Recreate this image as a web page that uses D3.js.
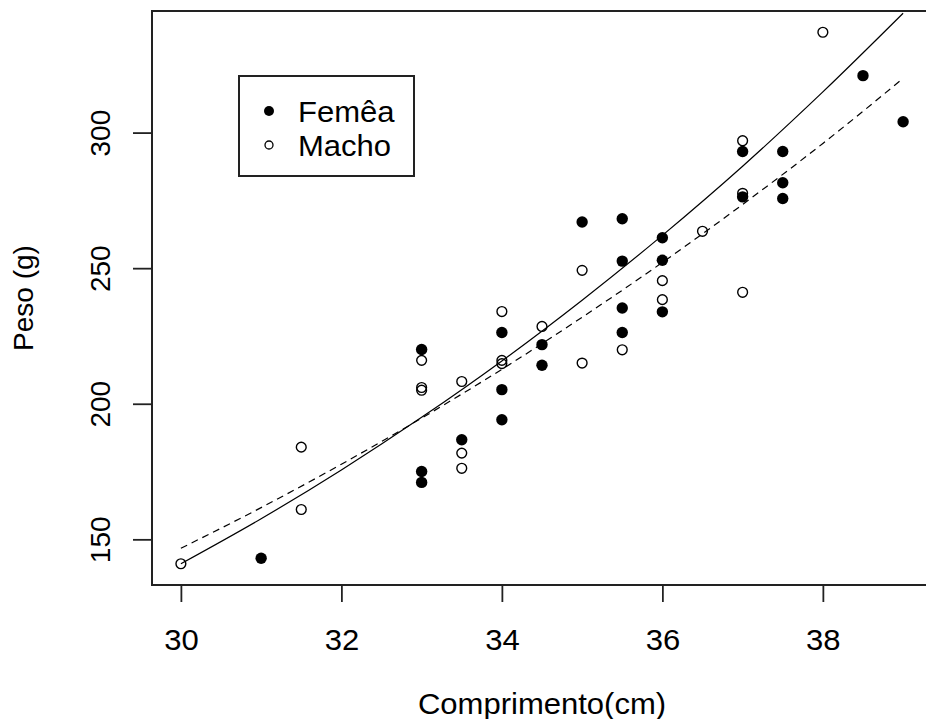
<!DOCTYPE html>
<html>
<head>
<meta charset="utf-8">
<script src="https://cdn.jsdelivr.net/npm/d3@7"></script>
<style>
  body { margin: 0; background: #fff; }
  text { font-family: "Liberation Sans", Arial, sans-serif; fill: #000; }
</style>
</head>
<body>
<svg id="chart" width="926" height="719"></svg>
<script>
// Fêmea (filled points)
const femeaComp = [31, 33, 33, 33, 33.5, 34, 34, 34, 34.5, 34.5, 35, 35.5, 35.5, 35.5, 35.5,
  36, 36, 36, 37, 37, 37.5, 37.5, 37.5, 38.5, 39];
const femeaPeso = [143, 220, 175, 171, 186.7, 226.3, 205.2, 194.1, 221.8, 214.2, 267, 268.2, 252.6, 235.3, 226.3,
  261.2, 252.9, 233.9, 293, 276.3, 293, 281.5, 275.7, 321, 304];

// Macho (open points)
const machoComp = [30, 31.5, 31.5, 33, 33, 33, 33.5, 33.5, 33.5, 34, 34, 34, 34.5, 35, 35,
  35.5, 36, 36, 36.5, 37, 37, 37, 38];
const machoPeso = [141, 184, 161, 216, 206, 205, 208.2, 181.8, 176.2, 234, 216, 214.8, 228.5, 249.2, 215,
  219.9, 245.4, 238.4, 263.6, 297, 277.6, 241.1, 337];

// fitted curves
const curveComp = [30, 31, 32, 33, 34, 35, 36, 37, 38, 39];
const curveSolid = [141, 157.6, 175.6, 195, 215.8, 238.2, 262.1, 287.6, 315, 344];
const curveDashed = [146.7, 161.7, 177.7, 194.7, 212.7, 231.9, 252.1, 273.5, 296, 320];

const xTicks = [30, 32, 34, 36, 38];
const yTicks = [150, 200, 250, 300];
const legendLabels = ["Femêa", "Macho"];

const plotLeft = 152, plotRight = 932, plotTop = 11, plotBottom = 585;
const fontSize = 29;
const stretch = 1.07; // the picture is a little wider than tall

const svg = d3.select("#chart");

// R style 4% padding on the data range
const allX = femeaComp.concat(machoComp);
const allY = femeaPeso.concat(machoPeso);
const [x0, x1] = d3.extent(allX);
const [y0, y1] = d3.extent(allY);
const x = d3.scaleLinear()
  .domain([x0 - (x1 - x0) * 0.04, x1 + (x1 - x0) * 0.04])
  .range([plotLeft, plotRight]);
const y = d3.scaleLinear()
  .domain([y0 - (y1 - y0) * 0.04, y1 + (y1 - y0) * 0.04])
  .range([plotBottom, plotTop]);

// curves
const line = d3.line()
  .x((d, i) => x(curveComp[i]))
  .y((d) => y(d))
  .curve(d3.curveMonotoneX);

svg.append("path")
  .attr("d", line(curveSolid))
  .attr("fill", "none")
  .attr("stroke", "#000")
  .attr("stroke-width", 1.2);

svg.append("path")
  .attr("d", line(curveDashed))
  .attr("fill", "none")
  .attr("stroke", "#000")
  .attr("stroke-width", 1.2)
  .attr("stroke-dasharray", "7,5");

// points
svg.append("g")
  .selectAll("circle")
  .data(femeaComp)
  .enter()
  .append("circle")
  .attr("cx", (d) => x(d))
  .attr("cy", (d, i) => y(femeaPeso[i]))
  .attr("r", 5.7)
  .attr("fill", "#000");

svg.append("g")
  .selectAll("circle")
  .data(machoComp)
  .enter()
  .append("circle")
  .attr("cx", (d) => x(d))
  .attr("cy", (d, i) => y(machoPeso[i]))
  .attr("r", 4.9)
  .attr("fill", "none")
  .attr("stroke", "#000")
  .attr("stroke-width", 1.4);

// box
svg.append("rect")
  .attr("x", plotLeft)
  .attr("y", plotTop)
  .attr("width", plotRight - plotLeft)
  .attr("height", plotBottom - plotTop)
  .attr("fill", "none")
  .attr("stroke", "#222")
  .attr("stroke-width", 2);

// x axis
const xAxis = svg.append("g")
  .attr("transform", `translate(0,${plotBottom})`)
  .call(d3.axisBottom(x).tickValues(xTicks).tickSize(17).tickFormat(d3.format("d")));
xAxis.select(".domain").remove();
xAxis.selectAll("line").attr("stroke", "#222").attr("stroke-width", 1.8);
xAxis.selectAll("text")
  .attr("y", null)
  .attr("dy", null)
  .attr("transform", `translate(0,64.5) scale(${stretch},1)`)
  .attr("font-size", fontSize)
  .attr("font-family", null)
  .attr("fill", "#000");

// y axis
const yAxis = svg.append("g")
  .attr("transform", `translate(${plotLeft},0)`)
  .call(d3.axisLeft(y).tickValues(yTicks).tickSize(19).tickFormat(d3.format("d")));
yAxis.select(".domain").remove();
yAxis.selectAll("line").attr("stroke", "#222").attr("stroke-width", 1.8);
yAxis.selectAll("text")
  .attr("x", null)
  .attr("dy", null)
  .attr("text-anchor", "middle")
  .attr("transform", "translate(-42,0) rotate(-90)")
  .attr("font-size", 28)
  .attr("font-family", null)
  .attr("fill", "#000");

// axis titles
svg.append("text")
  .attr("transform", `translate(${(plotLeft + plotRight) / 2},714) scale(${stretch},1)`)
  .attr("text-anchor", "middle")
  .attr("font-size", fontSize)
  .text("Comprimento(cm)");

svg.append("text")
  .attr("transform", `translate(33,${(plotTop + plotBottom) / 2}) rotate(-90)`)
  .attr("text-anchor", "middle")
  .attr("font-size", 28)
  .text("Peso (g)");

// legend
const legend = svg.append("g");
legend.append("rect")
  .attr("x", 239)
  .attr("y", 76)
  .attr("width", 175)
  .attr("height", 100)
  .attr("fill", "#fff")
  .attr("stroke", "#222")
  .attr("stroke-width", 2);

legend.append("circle")
  .attr("cx", 269).attr("cy", 111).attr("r", 5)
  .attr("fill", "#000");
legend.append("circle")
  .attr("cx", 269).attr("cy", 145).attr("r", 4)
  .attr("fill", "none").attr("stroke", "#000").attr("stroke-width", 1.3);

legend.selectAll("text")
  .data(legendLabels)
  .enter()
  .append("text")
  .attr("transform", (d, i) => `translate(298,${122 + i * 33.5}) scale(${stretch},1)`)
  .attr("font-size", fontSize)
  .text((d) => d);
</script>
</body>
</html>
